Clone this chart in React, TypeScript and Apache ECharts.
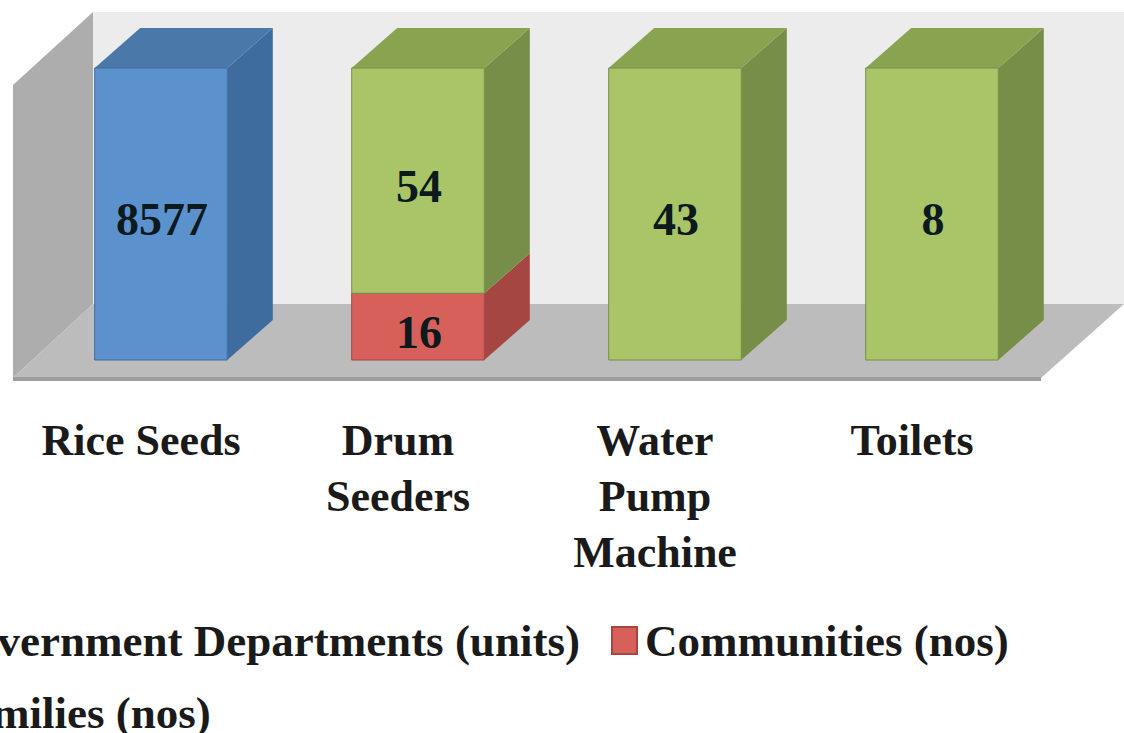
import React, { useEffect, useRef } from "react";
import * as echarts from "echarts";

const categories = ["Rice Seeds", "Drum\nSeeders", "Water\nPump\nMachine", "Toilets"];
const governmentDepartments = [8577, 0, 0, 0];
const communities = [0, 16, 0, 0];
const families = [0, 54, 43, 8];

const seriesNames = ["Government Departments (units)", "Communities (nos)", "Families (nos)"];
const seriesValues = [governmentDepartments, communities, families];
const faceColors = ["#5b92cd", "#d8605a", "#a9c568"];
const sideColors = ["#3f6c9f", "#a54643", "#768e48"];
const topColors = ["#4a79a9", "#a54643", "#89a350"];

const FONT = "'Liberation Serif', serif";
const DEPTH_X = 45.5;
const DEPTH_Y = 40;

const totals = categories.map((_, i) => seriesValues.reduce((s, v) => s + v[i], 0));

function rowsFor(seriesIndex: number) {
  const rows: number[][] = [];
  categories.forEach((_, i) => {
    const raw = seriesValues[seriesIndex][i];
    if (!raw) return;
    let before = 0;
    for (let k = 0; k < seriesIndex; k++) before += seriesValues[k][i];
    rows.push([i, (before / totals[i]) * 100, ((before + raw) / totals[i]) * 100, raw]);
  });
  return rows;
}

function renderBox(seriesIndex: number) {
  return (_params: any, api: any) => {
    const cat = api.value(0);
    const [cx, y0] = api.coord([cat, api.value(1)]);
    const [, y1] = api.coord([cat, api.value(2)]);
    const bw = api.size([1, 0])[0] * 0.516;
    const l = cx - bw / 2;
    const r = cx + bw / 2;
    const isTop = api.value(2) >= 99.999;
    const children: any[] = [
      {
        type: "polygon",
        shape: { points: [[r, y1], [r + DEPTH_X, y1 - DEPTH_Y], [r + DEPTH_X, y0 - DEPTH_Y], [r, y0]] },
        style: { fill: sideColors[seriesIndex] },
      },
    ];
    if (isTop) {
      children.push({
        type: "polygon",
        shape: { points: [[l, y1], [l + DEPTH_X, y1 - DEPTH_Y], [r + DEPTH_X, y1 - DEPTH_Y], [r, y1]] },
        style: { fill: topColors[seriesIndex] },
      });
    }
    children.push({
      type: "rect",
      shape: { x: l, y: y1, width: bw, height: y0 - y1 },
      style: { fill: faceColors[seriesIndex], stroke: sideColors[seriesIndex], lineWidth: 1 },
    });
    children.push({
      type: "text",
      style: {
        text: String(api.value(3)),
        x: cx + 1,
        y: (y0 + y1) / 2 + 5.5,
        align: "center",
        verticalAlign: "middle",
        font: `bold 46px ${FONT}`,
        fill: "#0c1a1e",
      },
    });
    return { type: "group", children };
  };
}

const legendText = {
  fontFamily: FONT,
  fontWeight: "bold" as const,
  fontSize: 45,
  color: "#1a1a1a",
  padding: [0, 0, 0, 3],
};
const legendBase = {
  icon: "rect",
  itemWidth: 25,
  itemHeight: 27,
  itemGap: 0,
  textStyle: legendText,
  padding: 0,
  selectedMode: false,
};

export default function App() {
  const ref = useRef<HTMLDivElement>(null);
  useEffect(() => {
    const chart = echarts.init(ref.current!, null, { renderer: "svg" });
    chart.setOption({
      animation: false,
      backgroundColor: "#ffffff",
      grid: { left: 32.5, right: 63.5, top: 68, bottom: 373 },
      xAxis: {
        type: "category",
        data: categories,
        axisLine: { show: false },
        axisTick: { show: false },
        axisLabel: {
          interval: 0,
          margin: 52,
          padding: [0, 40, 0, 0],
          fontFamily: FONT,
          fontWeight: "bold",
          fontSize: 44,
          lineHeight: 56,
          color: "#1a1a1a",
        },
      },
      yAxis: { type: "value", min: 0, max: 100, show: false },
      legend: [
        { ...legendBase, data: [seriesNames[0]], left: -94, top: 618 },
        { ...legendBase, data: [seriesNames[1]], left: 611, top: 618 },
        { ...legendBase, data: [seriesNames[2]], left: -92, top: 690 },
      ],
      graphic: [
        { type: "rect", z: 0, shape: { x: 93, y: 12, width: 1031, height: 292 }, style: { fill: "#ececec" } },
        {
          type: "polygon", z: 0,
          shape: { points: [[13, 85], [93, 12], [93, 304], [13, 378]] },
          style: { fill: "#adadad" },
        },
        {
          type: "polygon", z: 0,
          shape: { points: [[93, 304], [1124, 304], [1041, 378], [13, 378]] },
          style: { fill: "#bcbcbc" },
        },
        { type: "rect", z: 0, shape: { x: 13, y: 377, width: 1028, height: 4 }, style: { fill: "#9d9d9d" } },
      ],
      series: seriesNames.map((name, i) => ({
        type: "custom",
        name,
        coordinateSystem: "cartesian2d",
        itemStyle: { color: faceColors[i], borderColor: sideColors[i], borderWidth: 1 },
        renderItem: renderBox(i),
        encode: { x: 0, y: 2 },
        data: rowsFor(i),
        clip: false,
        silent: true,
      })),
    });
    return () => chart.dispose();
  }, []);
  return (
    <div
      ref={ref}
      style={{ position: "absolute", left: 0, top: 0, width: 1124, height: 733, overflow: "hidden" }}
    />
  );
}
